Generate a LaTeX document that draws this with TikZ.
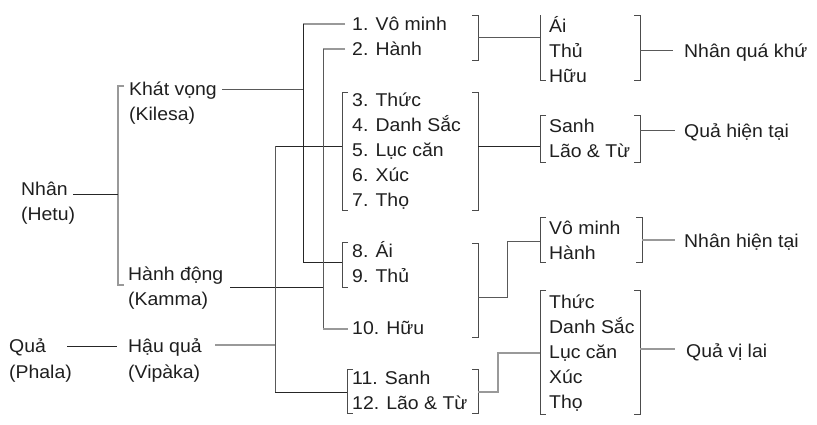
\documentclass[tikz,border=0pt]{standalone}
\usepackage{fontspec}
\setmainfont{Liberation Sans}[FakeStretch=1.05]
\begin{document}
\begin{tikzpicture}[x=1pt,y=-1pt,
  txt/.style={anchor=base west,inner sep=0pt,font=\fontsize{18.5}{25}\selectfont,text=black!88},
  bk/.style={line width=1pt,draw=black!85},
  dg/.style={line width=0.9pt,draw=black!65},
  lg/.style={line width=1.1pt,draw=black!40},
  brk/.style={line width=0.9pt,draw=black!70}]
\useasboundingbox[fill=white] (0,0) rectangle (817,424);
% left column
\node[txt] (nhan) at (21,195) {Nhân};
\node[txt] (hetu) at (21,220) {(Hetu)};
\node[txt] (khat) at (129,95) {Khát vọng};
\node[txt] (kilesa) at (129,120) {(Kilesa)};
\node[txt] (hanhdong) at (128,280) {Hành động};
\node[txt] (kamma) at (128,305) {(Kamma)};
\node[txt] (qua) at (9,352) {Quả};
\node[txt] (phala) at (9,378) {(Phala)};
\node[txt] (hauqua) at (128,352) {Hậu quả};
\node[txt] (vipaka) at (128,378) {(Vipàka)};
% middle column
\node[txt] (m1) at (352,30) {1. Vô minh};
\node[txt] (m2) at (352,55) {2. Hành};
\node[txt] (m3) at (352,106) {3. Thức};
\node[txt] (m4) at (352,131) {4. Danh Sắc};
\node[txt] (m5) at (352,156) {5. Lục căn};
\node[txt] (m6) at (352,181) {6. Xúc};
\node[txt] (m7) at (352,206) {7. Thọ};
\node[txt] (m8) at (352,257) {8. Ái};
\node[txt] (m9) at (352,282) {9. Thủ};
\node[txt] (m10) at (352,334) {10. Hữu};
\node[txt] (m11) at (352,384) {11. Sanh};
\node[txt] (m12) at (352,409) {12. Lão \& Từ};
% right column
\node[txt] (r1) at (549,32) {Ái};
\node[txt] (r2) at (549,57) {Thủ};
\node[txt] (r3) at (549,82) {Hữu};
\node[txt] (r4) at (549,132) {Sanh};
\node[txt] (r5) at (549,157) {Lão \& Từ};
\node[txt] (r6) at (549,234) {Vô minh};
\node[txt] (r7) at (549,259) {Hành};
\node[txt] (r8) at (549,308) {Thức};
\node[txt] (r9) at (549,333) {Danh Sắc};
\node[txt] (r10) at (549,358) {Lục căn};
\node[txt] (r11) at (549,383) {Xúc};
\node[txt] (r12) at (549,408) {Thọ};
% labels
\node[txt] (l1) at (684,57) {Nhân quá khứ};
\node[txt] (l2) at (684,137) {Quả hiện tại};
\node[txt] (l3) at (684,247) {Nhân hiện tại};
\node[txt] (l4) at (686,357) {Quả vị lai};
% brackets
\draw[lg] (124,86) -- (118,86) -- (118,285) -- (124,285);
\draw[brk] (472,15) -- (478,15) -- (478,60) -- (472,60);
\draw[brk] (540,15) -- (540,80) -- (546,80);
\draw[brk] (634,15) -- (640,15) -- (640,80) -- (634,80);
\draw[brk] (348,92) -- (342,92) -- (342,210) -- (348,210);
\draw[brk] (472,92) -- (478,92) -- (478,210) -- (472,210);
\draw[brk] (546,115) -- (540,115) -- (540,162) -- (546,162);
\draw[brk] (634,115) -- (640,115) -- (640,162) -- (634,162);
\draw[brk] (348,242) -- (342,242) -- (342,287) -- (348,287);
\draw[brk] (472,243) -- (478,243) -- (478,337) -- (472,337);
\draw[brk] (546,217) -- (540,217) -- (540,262) -- (546,262);
\draw[brk] (636,217) -- (642,217) -- (642,262) -- (636,262);
\draw[brk] (353,369) -- (347,369) -- (347,413) -- (353,413);
\draw[brk] (472,369) -- (478,369) -- (478,413) -- (472,413);
\draw[brk] (546,290) -- (540,290) -- (540,414) -- (546,414);
\draw[brk] (634,290) -- (640,290) -- (640,414) -- (634,414);
% connectors
\coordinate (nhanE) at (73,194);   \coordinate (brA) at (118,194);
\coordinate (khatE) at (222,89);   \coordinate (j303k) at (303,89);
\coordinate (hdE) at (230,287);    \coordinate (j323h) at (323,287);
\coordinate (quaE) at (67,346);    \coordinate (brB) at (117,346);
\coordinate (hqE) at (215,345);    \coordinate (j275h) at (275,345);
\draw[bk] (nhanE) -- (brA);
\draw[dg] (khatE) -- (j303k);
\draw[bk] (hdE) -- (j323h);
\draw[bk] (quaE) -- (brB);
\draw[lg] (hqE) -- (j275h);
% vertical trunks
\draw[bk] (342,146) -- (275,146);
\draw[dg] (275,146) -- (275,392);
\draw[bk] (275,392) -- (347,392);
\draw[lg] (345,24) -- (303,24);
\draw[bk] (303,24) -- (303,262) -- (342,262);
\draw[lg] (345,49) -- (323,49);
\draw[dg] (323,49) -- (323,329);
\draw[lg] (323,329) -- (348,329);
% middle to right
\draw[dg] (478,37) -- (540,37);
\draw[bk] (478,146) -- (540,146);
\draw[dg] (478,297) -- (507,297) -- (507,241) -- (540,241);
\draw[lg] (478,392) -- (498,392) -- (498,353) -- (540,353);
% right to labels
\draw[dg] (640,50) -- (673,50);
\draw[dg] (640,130) -- (675,130);
\draw[lg] (642,240) -- (675,240);
\draw[lg] (640,349) -- (675,349);
\end{tikzpicture}
\end{document}
